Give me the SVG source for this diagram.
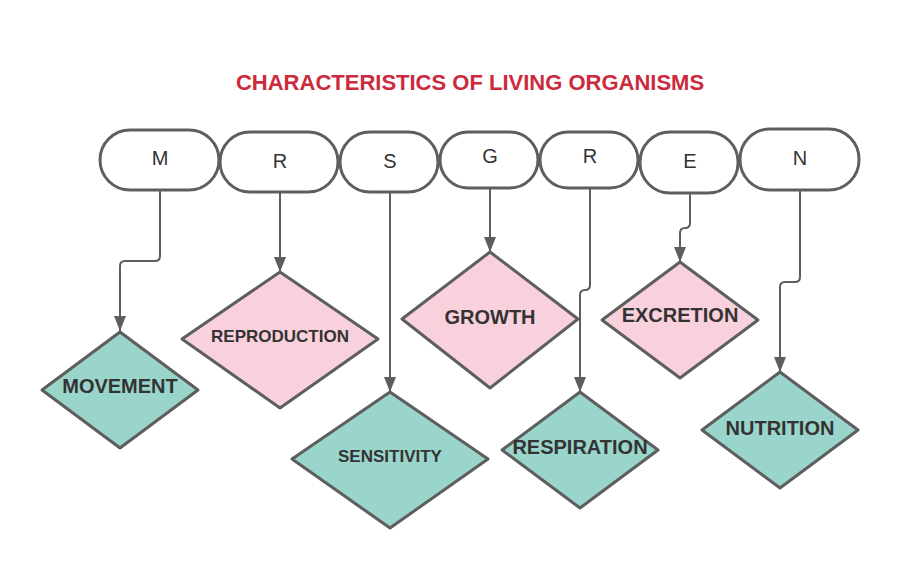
<svg xmlns="http://www.w3.org/2000/svg" width="900" height="570" viewBox="0 0 900 570">
<defs>
<style>
.pill{fill:#fff;stroke:#5e5e5e;stroke-width:3}
.dia{stroke:#5e5e5e;stroke-width:3;stroke-linejoin:round}
.teal{fill:#99d5ca}
.pink{fill:#f9d1dc}
.lt{font-family:"Liberation Sans",Arial,sans-serif;font-size:20px;fill:#333;text-anchor:middle}
.dt{font-family:"Liberation Sans",Arial,sans-serif;font-weight:bold;fill:#333;text-anchor:middle}
.conn{fill:none;stroke:#5e5e5e;stroke-width:2}
.title{font-family:"Liberation Sans",Arial,sans-serif;font-weight:bold;font-size:22px;fill:#cc2a3d;text-anchor:middle}
</style>
<marker id="arr" markerUnits="userSpaceOnUse" markerWidth="14" markerHeight="16" refX="7" refY="15" orient="auto-start-reverse" viewBox="0 0 14 16">
<path d="M1,0 L13,0 L7,15 Z" fill="#5e5e5e" transform="rotate(0)"/>
</marker>
</defs>
<rect width="900" height="570" fill="#fff"/>
<text class="title" x="470" y="90">CHARACTERISTICS OF LIVING ORGANISMS</text>

<g id="connectors">
<path class="conn" d="M160,190 V256 Q160,261 155,261 H125 Q120,261 120,266 V331"/>
<path class="conn" d="M280,192 V272"/>
<path class="conn" d="M390,192 V392"/>
<path class="conn" d="M490,188 V252"/>
<path class="conn" d="M590,188 V285 Q590,290 585,290 Q580,290 580,295 V392"/>
<path class="conn" d="M690,193 V223 Q690,228 685,228 Q680,228 680,233 V262"/>
<path class="conn" d="M800,191 V277 Q800,282 795,282 H785 Q780,282 780,287 V372"/>
<g fill="#5e5e5e">
<path d="M114,316 L126,316 L120,331 Z"/>
<path d="M274,257 L286,257 L280,272 Z"/>
<path d="M384,377 L396,377 L390,392 Z"/>
<path d="M484,237 L496,237 L490,252 Z"/>
<path d="M574,377 L586,377 L580,392 Z"/>
<path d="M674,247 L686,247 L680,262 Z"/>
<path d="M774,357 L786,357 L780,372 Z"/>
</g>
</g>

<g id="pill-m"><rect class="pill" x="100" y="130" width="119" height="60" rx="30"/><text class="lt" x="160" y="165">M</text></g>
<g id="pill-r1"><rect class="pill" x="220" y="132" width="118" height="60" rx="30"/><text class="lt" x="280" y="168">R</text></g>
<g id="pill-s"><rect class="pill" x="340" y="132" width="98" height="60" rx="30"/><text class="lt" x="390" y="168">S</text></g>
<g id="pill-g"><rect class="pill" x="440" y="132" width="98" height="56" rx="28"/><text class="lt" x="490" y="163">G</text></g>
<g id="pill-r2"><rect class="pill" x="540" y="132" width="98" height="56" rx="28"/><text class="lt" x="590" y="163">R</text></g>
<g id="pill-e"><rect class="pill" x="640" y="132" width="98" height="61" rx="30"/><text class="lt" x="690" y="168">E</text></g>
<g id="pill-n"><rect class="pill" x="740" y="129" width="119" height="61" rx="30"/><text class="lt" x="800" y="165">N</text></g>

<g id="movement"><path class="dia teal" d="M120,332 L198,390 L120,448 L42,390 Z"/><text class="dt" x="120" y="393" font-size="20">MOVEMENT</text></g>
<g id="reproduction"><path class="dia pink" d="M280,272 L378,339 L280,408 L182,339 Z"/><text class="dt" x="280" y="342" font-size="17">REPRODUCTION</text></g>
<g id="sensitivity"><path class="dia teal" d="M390,392 L488,459 L390,528 L292,459 Z"/><text class="dt" x="390" y="462" font-size="17">SENSITIVITY</text></g>
<g id="growth"><path class="dia pink" d="M490,252 L578,319 L490,388 L402,319 Z"/><text class="dt" x="490" y="324" font-size="20">GROWTH</text></g>
<g id="excretion"><path class="dia pink" d="M680,262 L758,320 L680,378 L602,320 Z"/><text class="dt" x="680" y="322" font-size="20">EXCRETION</text></g>
<g id="respiration"><path class="dia teal" d="M580,392 L658,450 L580,508 L502,450 Z"/><text class="dt" x="580" y="454" font-size="20">RESPIRATION</text></g>
<g id="nutrition"><path class="dia teal" d="M780,372 L858,430 L780,488 L702,430 Z"/><text class="dt" x="780" y="435" font-size="20">NUTRITION</text></g>
</svg>
